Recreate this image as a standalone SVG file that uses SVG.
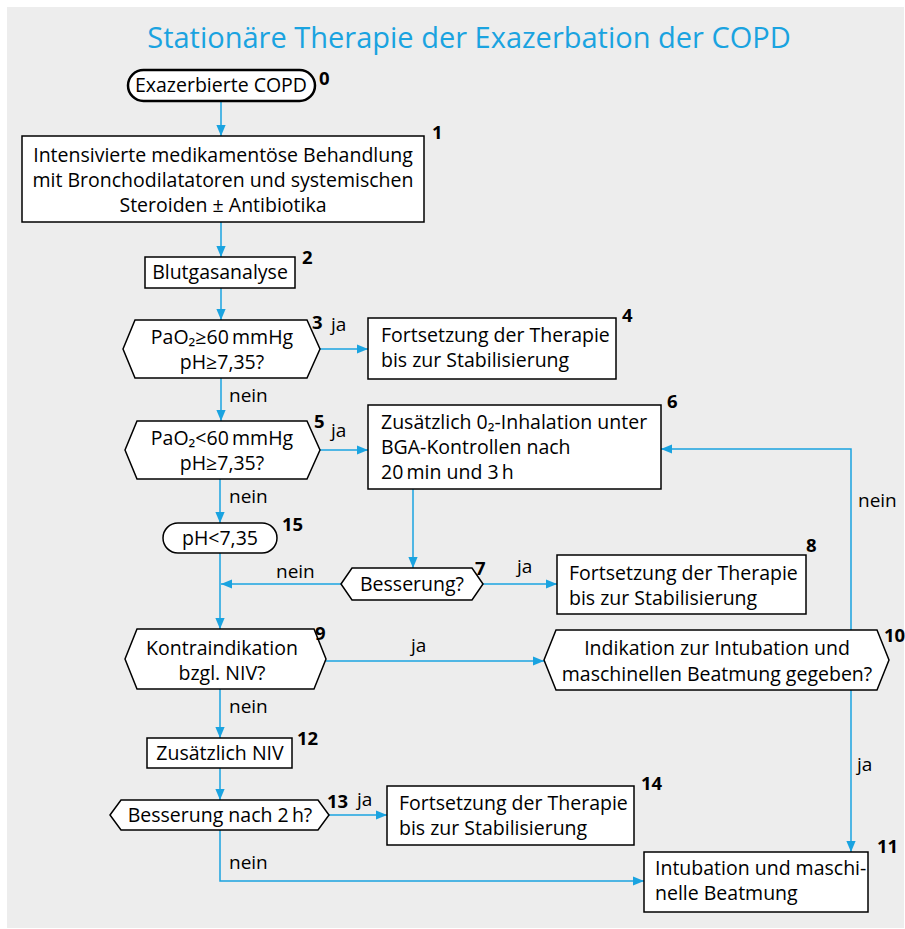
<svg xmlns="http://www.w3.org/2000/svg" width="905" height="929" viewBox="0 0 905 929">
<defs>
<style>
.bg{fill:#EDEDED}
.box{fill:#fff;stroke:#000;stroke-width:1.5}
.pill{fill:#fff;stroke:#000;stroke-width:2.5}
.t{font-family:"Open Sans","Noto Sans","Liberation Sans",sans-serif;font-size:19.5px;fill:#000}
.c{text-anchor:middle}
.n{font-family:"Open Sans","Liberation Sans",sans-serif;font-size:18.5px;font-weight:bold;fill:#000}
.lbl{font-family:"Open Sans","Noto Sans","Liberation Sans",sans-serif;font-size:19px;fill:#000}
.title{font-family:"Open Sans","Noto Sans","Liberation Sans",sans-serif;font-size:29px;fill:#1AA3E0;text-anchor:middle}
.con path{fill:none;stroke:#1AA3E0;stroke-width:1.5}
</style>
<marker id="ah" viewBox="0 0 10 10" refX="10" refY="5" markerWidth="11" markerHeight="11" markerUnits="userSpaceOnUse" orient="auto">
<path d="M0,0.8 L10,5 L0,9.2 z" fill="#1AA3E0"/>
</marker>
</defs>
<rect class="bg" x="7" y="7" width="897" height="921"/>
<text class="title" x="469" y="48">Stationäre Therapie der Exazerbation der COPD</text>

<g class="con">
<path d="M221,101 V136" marker-end="url(#ah)"/>
<path d="M221,222 V257" marker-end="url(#ah)"/>
<path d="M221,288 V320" marker-end="url(#ah)"/>
<path d="M320,349 H368" marker-end="url(#ah)"/>
<path d="M221,378 V421" marker-end="url(#ah)"/>
<path d="M320,450 H368" marker-end="url(#ah)"/>
<path d="M220,479 V523" marker-end="url(#ah)"/>
<path d="M220,553 V629" marker-end="url(#ah)"/>
<path d="M413,489 V568" marker-end="url(#ah)"/>
<path d="M341,584 H221" marker-end="url(#ah)"/>
<path d="M483,584 H557" marker-end="url(#ah)"/>
<path d="M326,661 H544" marker-end="url(#ah)"/>
<path d="M851,630 V449 H661" marker-end="url(#ah)"/>
<path d="M851,690 V852" marker-end="url(#ah)"/>
<path d="M220,689 V738" marker-end="url(#ah)"/>
<path d="M220,768 V800" marker-end="url(#ah)"/>
<path d="M329,815 H387" marker-end="url(#ah)"/>
<path d="M220,830 V881 H644" marker-end="url(#ah)"/>
</g>
<g id="edge-labels">
<text class="lbl" x="331" y="331">ja</text>
<text class="lbl" x="229" y="402">nein</text>
<text class="lbl" x="331" y="437">ja</text>
<text class="lbl" x="229" y="503">nein</text>
<text class="lbl" x="276" y="578">nein</text>
<text class="lbl" x="517" y="573">ja</text>
<text class="lbl" x="411" y="652">ja</text>
<text class="lbl" x="858" y="507">nein</text>
<text class="lbl" x="857" y="771">ja</text>
<text class="lbl" x="229" y="713">nein</text>
<text class="lbl" x="357" y="806">ja</text>
<text class="lbl" x="229" y="869">nein</text>
</g>

<g id="n0">
<rect class="pill" x="128" y="70" width="187" height="31" rx="15.5"/>
<text class="t c" x="221" y="92">Exazerbierte COPD</text>
<text class="n" x="319" y="85">0</text>
</g>
<g id="n1">
<rect class="box" x="22" y="136" width="402" height="86"/>
<text class="t c" x="223" y="162">Intensivierte medikamentöse Behandlung</text>
<text class="t c" x="223" y="187">mit Bronchodilatatoren und systemischen</text>
<text class="t c" x="223" y="212">Steroiden ± Antibiotika</text>
<text class="n" x="432" y="139">1</text>
</g>
<g id="n2">
<rect class="box" x="145" y="257" width="150" height="31"/>
<text class="t c" x="220" y="279">Blutgasanalyse</text>
<text class="n" x="302" y="264">2</text>
</g>
<g id="n3">
<path class="box" d="M123,349 L135,320 H307 L320,349 L307,378 H135 Z"/>
<text class="t c" x="222" y="344">PaO₂≥60&#8201;mmHg</text>
<text class="t c" x="222" y="369">pH≥7,35?</text>
<text class="n" x="312" y="329">3</text>
</g>
<g id="n4">
<rect class="box" x="368" y="318" width="248" height="61"/>
<text class="t" x="381" y="342">Fortsetzung der Therapie</text>
<text class="t" x="381" y="367">bis zur Stabilisierung</text>
<text class="n" x="622" y="322">4</text>
</g>
<g id="n5">
<path class="box" d="M125,450 L137,421 H307 L320,450 L307,479 H137 Z"/>
<text class="t c" x="222" y="445">PaO₂&lt;60&#8201;mmHg</text>
<text class="t c" x="222" y="470">pH≥7,35?</text>
<text class="n" x="314" y="428">5</text>
</g>
<g id="n6">
<rect class="box" x="368" y="405" width="293" height="84"/>
<text class="t" x="381" y="429">Zusätzlich 0₂-Inhalation unter</text>
<text class="t" x="381" y="454">BGA-Kontrollen nach</text>
<text class="t" x="381" y="479">20&#8201;min und 3&#8201;h</text>
<text class="n" x="667" y="408">6</text>
</g>
<g id="n15">
<rect class="box" x="163" y="523" width="114" height="30" rx="15"/>
<text class="t c" x="220" y="545">pH&lt;7,35</text>
<text class="n" x="282" y="531">15</text>
</g>
<g id="n7">
<path class="box" d="M341,584 L352,568 H472 L483,584 L472,600 H352 Z"/>
<text class="t c" x="412" y="591">Besserung?</text>
<text class="n" x="475" y="575">7</text>
</g>
<g id="n8">
<rect class="box" x="557" y="555" width="249" height="59"/>
<text class="t" x="569" y="580">Fortsetzung der Therapie</text>
<text class="t" x="569" y="605">bis zur Stabilisierung</text>
<text class="n" x="806" y="552">8</text>
</g>
<g id="n9">
<path class="box" d="M125,659 L137,629 H314 L326,659 L314,689 H137 Z"/>
<text class="t c" x="222" y="655">Kontraindikation</text>
<text class="t c" x="222" y="680">bzgl. NIV?</text>
<text class="n" x="315" y="640">9</text>
</g>
<g id="n10">
<path class="box" d="M544,660 L556,630 H877 L889,660 L877,690 H556 Z"/>
<text class="t c" x="717" y="655">Indikation zur Intubation und</text>
<text class="t c" x="717" y="681">maschinellen Beatmung gegeben?</text>
<text class="n" x="884" y="642">10</text>
</g>
<g id="n11">
<rect class="box" x="644" y="852" width="224" height="60"/>
<text class="t" x="655" y="875">Intubation und maschi-</text>
<text class="t" x="655" y="900">nelle Beatmung</text>
<text class="n" x="877" y="853">11</text>
</g>
<g id="n12">
<rect class="box" x="147" y="738" width="145" height="30"/>
<text class="t c" x="220" y="760">Zusätzlich NIV</text>
<text class="n" x="297" y="745">12</text>
</g>
<g id="n13">
<path class="box" d="M110,815 L121,800 H318 L329,815 L318,830 H121 Z"/>
<text class="t c" x="220" y="822">Besserung nach 2&#8201;h?</text>
<text class="n" x="327" y="808">13</text>
</g>
<g id="n14">
<rect class="box" x="387" y="786" width="247" height="59"/>
<text class="t" x="399" y="810">Fortsetzung der Therapie</text>
<text class="t" x="399" y="835">bis zur Stabilisierung</text>
<text class="n" x="641" y="790">14</text>
</g>
</svg>
